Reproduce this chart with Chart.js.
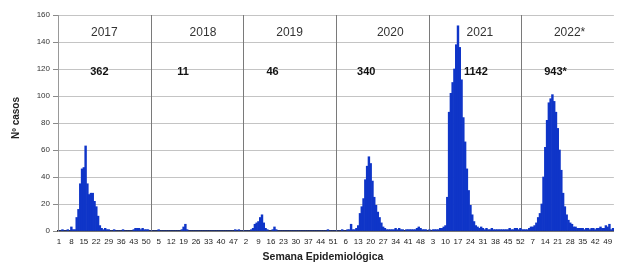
<!DOCTYPE html>
<html>
<head>
<meta charset="utf-8">
<script src="https://cdn.jsdelivr.net/npm/chart.js@4.4.1/dist/chart.umd.min.js"></script>
<style>
  html, body { margin: 0; padding: 0; background: #fff; }
  canvas { display: block; }
</style>
</head>
<body>
<canvas id="casosChart" width="619" height="266"></canvas>
<script>
// Casos por semana epidemiológica (1-52) de cada año
const years = ['2017', '2018', '2019', '2020', '2021', '2022*'];
const yearTotals = ['362', '11', '46', '340', '1142', '943*'];
const weeksPerYear = 52;

const cases2017 = [0,0,1,0,0,1,0,3,1,1, 10,16,35,46,47,63,35,27,28,28, 22,18,11,4,2,1,2,1,1,0,
                   0,1,0,0,0,0,1,0,0,0, 0,0,1,2,2,2,1,2,1,1, 1,0];
const cases2018 = [0,0,0,0,1,0,0,0,0,0, 0,0,0,0,0,0,0,1,3,5, 1,0,0,0,0,0,0,0,0,0,
                   0,0,0,0,0,0,0,0,0,0, 0,0,0,0,0,0,0,1,0,1, 0,0];
const cases2019 = [0,0,0,0,1,2,5,6,7,10, 12,6,2,1,0,0,1,3,1,0, 0,0,0,0,0,0,0,0,0,0,
                   0,0,0,0,0,0,0,0,0,0, 0,0,0,0,0,0,0,1,0,0, 0,0];
const cases2020 = [0,0,0,1,0,0,1,1,5,1, 1,2,4,13,18,24,38,48,55,50, 37,25,19,14,10,6,3,2,1,1,
                   1,1,1,2,1,2,1,1,0,1, 1,1,1,1,1,2,3,2,1,1, 1,0];
const cases2021 = [1,0,1,1,1,1,2,2,3,4, 25,88,102,110,120,138,152,136,112,84, 66,46,30,19,12,7,4,3,2,3,
                   2,1,2,1,1,2,1,1,1,1, 1,1,1,1,1,2,1,1,2,2, 1,2];
const cases2022 = [1,1,1,1,2,3,3,4,6,10, 13,20,40,62,82,95,98,101,96,88, 76,60,45,28,18,12,8,6,5,3,
                   3,2,2,2,2,1,2,2,1,2, 2,1,2,2,3,2,2,4,3,5, 1,2];

const yMax = 160;
const yStep = 20;

const weeklyCases = [].concat(cases2017, cases2018, cases2019, cases2020, cases2021, cases2022);
const weekLabels = [];
years.forEach(() => {
    for (let w = 1; w <= weeksPerYear; w++) weekLabels.push(String(w));
});

const FONT = '"Liberation Sans", Arial, sans-serif';

// separadores de año, rótulos y títulos de ejes
const yearMarks = {
    id: 'yearMarks',
    beforeDatasetsDraw(chart) {
        const { ctx, chartArea, scales: { x } } = chart;
        ctx.save();
        ctx.strokeStyle = '#7a7a7a';
        ctx.lineWidth = 1;
        for (let k = 1; k < years.length; k++) {
            const px = Math.round(x.getPixelForValue(k * weeksPerYear - 0.5)) + 0.5;
            ctx.beginPath();
            ctx.moveTo(px, chartArea.top);
            ctx.lineTo(px, chartArea.bottom);
            ctx.stroke();
        }
        ctx.restore();
    },
    afterDatasetsDraw(chart) {
        const { ctx, scales: { x, y } } = chart;
        const nudgeYear = [0, 6, 0, 8, 5, 2];
        const nudgeTotal = [-5, -14, -17, -16, 1, -12];
        ctx.save();
        ctx.textAlign = 'center';
        ctx.textBaseline = 'middle';
        years.forEach((yr, k) => {
            const cx = x.getPixelForValue(k * weeksPerYear + weeksPerYear / 2 - 0.5);
            ctx.font = '12px ' + FONT;
            ctx.fillStyle = '#333';
            ctx.fillText(yr, cx + nudgeYear[k], y.getPixelForValue(147));
            ctx.font = 'bold 11px ' + FONT;
            ctx.fillStyle = '#111';
            ctx.fillText(yearTotals[k], cx + nudgeTotal[k], y.getPixelForValue(118));
        });
        ctx.restore();
    },
    afterDraw(chart) {
        const { ctx, chartArea } = chart;
        ctx.save();
        ctx.fillStyle = '#222';
        ctx.textAlign = 'center';
        ctx.textBaseline = 'middle';
        ctx.font = 'bold 10.5px ' + FONT;
        ctx.fillText('Semana Epidemiológica', (chartArea.left + chartArea.right) / 2 - 13, 257);
        ctx.translate(16, 118);
        ctx.rotate(-Math.PI / 2);
        ctx.font = 'bold 10px ' + FONT;
        ctx.fillText('Nº casos', 0, 0);
        ctx.restore();
    }
};

new Chart(document.getElementById('casosChart'), {
    type: 'bar',
    data: {
        labels: weekLabels,
        datasets: [{
            data: weeklyCases,
            backgroundColor: '#0f35c8',
            borderWidth: 0,
            barPercentage: 1,
            categoryPercentage: 1
        }]
    },
    options: {
        responsive: false,
        animation: false,
        devicePixelRatio: 1,
        layout: { padding: { top: 15, right: 3, left: 0, bottom: 0 } },
        plugins: { legend: { display: false }, tooltip: { enabled: false } },
        scales: {
            x: {
                grid: { display: false, drawTicks: false },
                border: { display: true, color: '#2a2a2a', width: 1.5 },
                ticks: {
                    autoSkip: false,
                    maxRotation: 0,
                    padding: 6,
                    color: '#222',
                    font: { family: FONT, size: 8 },
                    callback: (val, i) => (i % 7 === 0 ? weekLabels[i] : '')
                },
                afterFit: s => { s.height = 35; }
            },
            y: {
                min: 0,
                max: yMax,
                ticks: { stepSize: yStep, padding: 3, color: '#333', font: { family: FONT, size: 8 } },
                grid: { color: '#c4c4c4', tickColor: '#8a8a8a', tickLength: 5 },
                border: { color: '#999' },
                afterFit: s => { s.width = 58; }
            }
        }
    },
    plugins: [yearMarks]
});
</script>
</body>
</html>
